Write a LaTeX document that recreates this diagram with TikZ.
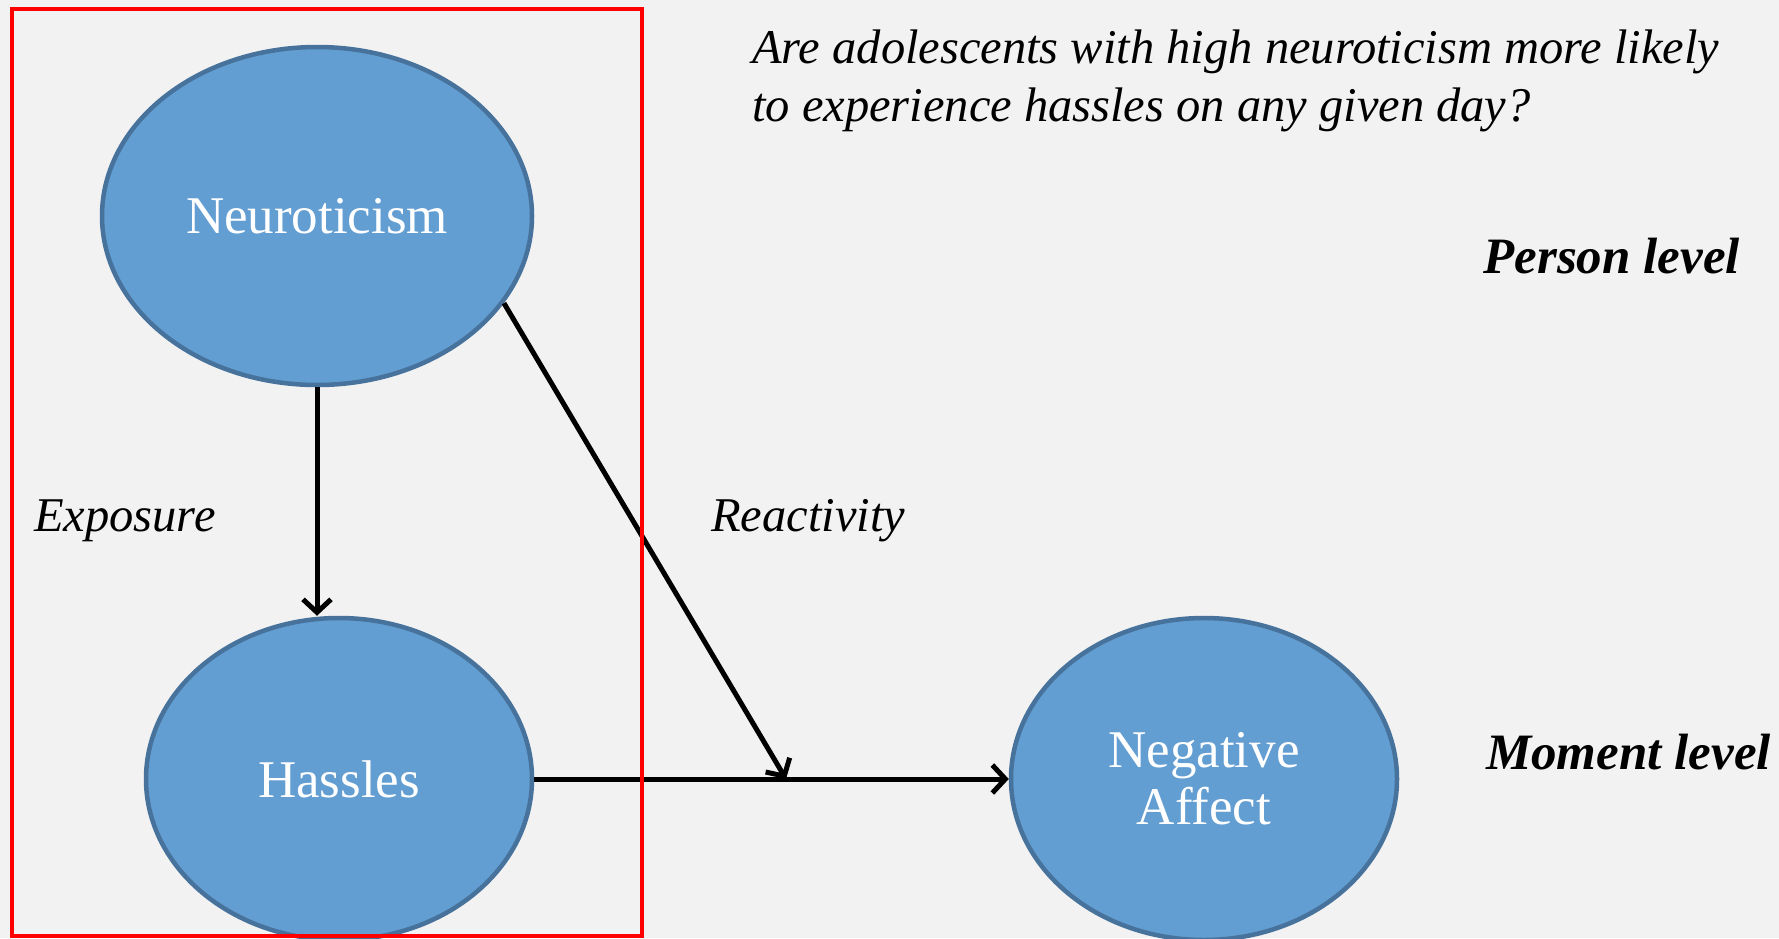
\documentclass[tikz,border=0pt]{standalone}
\usepackage{fontspec}
\setmainfont{Liberation Serif}
\usetikzlibrary{shapes.geometric,arrows.meta}
\definecolor{bgc}{HTML}{F2F2F2}
\definecolor{ellfill}{HTML}{639ED2}
\definecolor{ellline}{HTML}{46729C}
\tikzset{
  var/.style={ellipse, fill=ellfill, draw=ellline, line width=4.5pt, inner sep=0pt,
    text=white, font=\fontsize{53}{57}\selectfont, align=center},
  conn/.style={line width=5pt, -{Straight Barb[length=13pt,width=28pt]}},
  lbl/.style={font=\fontsize{48.5}{58}\selectfont\itshape, inner sep=0pt},
  lvl/.style={font=\fontsize{51}{58}\selectfont\bfseries\itshape, inner sep=0pt},
}
\begin{document}
\begin{tikzpicture}[x=1pt,y=-1pt]
\useasboundingbox (0,0) rectangle (1779,938);
\fill[bgc] (0,0) rectangle (1779,938);
\node[var, minimum width=430pt, minimum height=338pt] (neu) at (317,216) {Neuroticism};
\node[var, minimum width=386pt, minimum height=322pt] (has) at (339,779) {Hassles};
\node[var, minimum width=386pt, minimum height=322pt] (na) at (1204,779) {Negative\\Affect};
\coordinate (mid) at (786,779);
\draw[conn] (neu.south -| 317,0) -- (has.north -| 317,0);
\draw[conn] (has.east) -- (na.west);
\draw[conn] (neu.-25) -- (mid);
\draw[red, line width=4.5pt] (12,9) rectangle (642,936);
\node[lbl, anchor=west] (exp) at (34,521) {Exposure};
\node[lbl, anchor=west] (rea) at (711,521) {Reactivity};
\node[lbl, anchor=north west, align=left] (q) at (752,30) {Are adolescents with high neuroticism more likely\\to experience hassles on any given day?};
\node[lvl, anchor=east] (pl) at (1740,256) {Person level};
\node[lvl, anchor=east] (ml) at (1771,752) {Moment level};
\end{tikzpicture}
\end{document}
